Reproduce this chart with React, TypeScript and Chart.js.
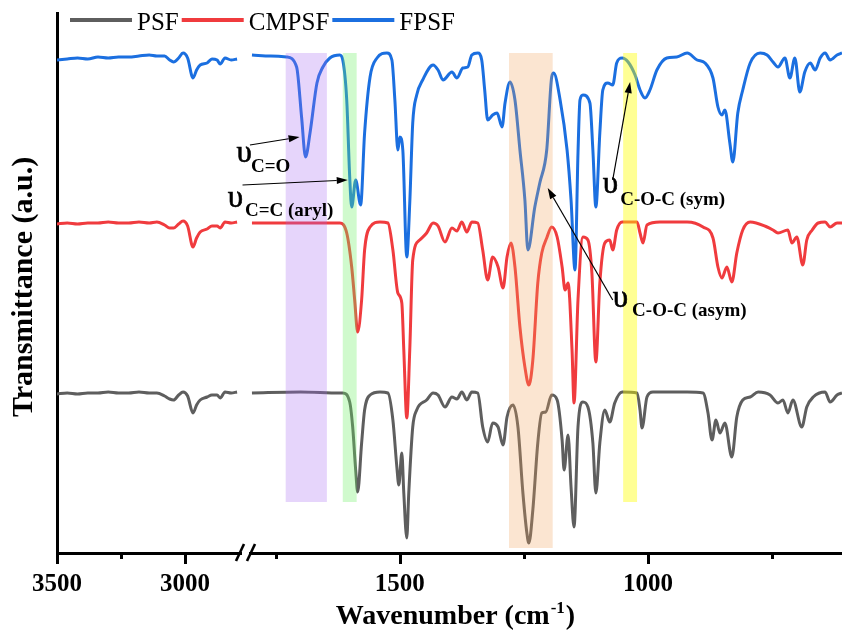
import React, { useEffect, useRef } from 'react';
import { Chart, registerables } from 'chart.js';

Chart.register(...registerables);

const FONT = '"Liberation Serif", "Times New Roman", Times, serif';

// ---------- data ----------
const seriesLabels = ['PSF', 'CMPSF', 'FPSF'];
const seriesColors = ['#5e5e5e', '#f03b3e', '#1b6fe0'];

// high-wavenumber segment (shared sampling)
const leftWn = [3500, 3460, 3420, 3380, 3340, 3300, 3260, 3220, 3180, 3140, 3110, 3080, 3060, 3045, 3025, 3008, 2990, 2969, 2955, 2941, 2914, 2895, 2875, 2863, 2844, 2820, 2797];
const psfLeftT = [159, 160, 159, 160, 160, 161, 160, 160, 161, 160, 160, 157, 154, 153, 158, 161, 157, 140, 148, 153, 156, 158, 158, 155, 161, 160, 161];
const cmpsfLeftT = [329, 330, 329, 330, 330, 331, 330, 330, 331, 330, 331, 328, 325, 325, 329, 332, 327, 306, 315, 321, 324, 327, 327, 325, 331, 330, 331];
const fpsfLeftT = [493, 494, 495, 494, 496, 495, 496, 496, 497, 498, 497, 497, 493, 491, 495, 500, 495, 475, 483, 488, 490, 494, 493, 489, 495, 493, 494];

// fingerprint segment
const psfRightWn = [1798, 1700, 1621, 1615, 1601, 1595, 1589, 1585, 1577, 1571, 1560, 1540, 1524, 1514, 1506, 1502, 1496, 1492, 1486, 1482, 1474, 1466, 1446, 1433, 1423, 1409, 1395, 1385, 1375, 1365, 1355, 1343, 1333, 1323, 1313, 1302, 1292, 1284, 1272, 1262, 1252, 1244, 1240, 1232, 1222, 1214, 1206, 1194, 1183, 1173, 1169, 1161, 1155, 1149, 1141, 1131, 1121, 1111, 1105, 1097, 1087, 1077, 1067, 1052, 1022, 1016, 1012, 1002, 990, 921, 889, 879, 871, 863, 855, 845, 831, 821, 809, 794, 778, 754, 738, 728, 718, 708, 690, 680, 667, 643, 633, 619, 609];
const psfRightT = [160, 161, 160, 160, 151, 126, 83, 61, 110, 143, 158, 161, 160, 133, 86, 68, 100, 60, 15, 60, 126, 143, 153, 160, 158, 146, 156, 154, 161, 153, 161, 160, 126, 111, 130, 126, 108, 136, 148, 126, 60, 20, 10, 43, 110, 140, 141, 158, 153, 113, 83, 118, 66, 26, 126, 151, 146, 110, 60, 110, 143, 131, 150, 161, 160, 143, 125, 156, 161, 161, 160, 140, 113, 133, 120, 130, 96, 136, 153, 156, 161, 158, 150, 153, 140, 153, 126, 146, 156, 161, 151, 158, 160];

const cmpsfRightWn = [1798, 1700, 1621, 1607, 1597, 1591, 1585, 1577, 1571, 1560, 1540, 1524, 1514, 1504, 1496, 1492, 1486, 1480, 1474, 1460, 1446, 1433, 1423, 1409, 1395, 1385, 1375, 1365, 1355, 1343, 1333, 1323, 1313, 1302, 1292, 1284, 1276, 1268, 1258, 1248, 1240, 1232, 1222, 1214, 1204, 1194, 1183, 1173, 1167, 1161, 1153, 1149, 1141, 1131, 1121, 1113, 1105, 1097, 1087, 1077, 1071, 1063, 1052, 1022, 1016, 1010, 1002, 976, 921, 889, 869, 859, 851, 841, 831, 821, 809, 794, 760, 748, 738, 718, 710, 700, 688, 680, 669, 657, 643, 633, 619, 609];
const cmpsfRightT = [330, 330, 330, 320, 286, 253, 221, 253, 303, 326, 331, 330, 303, 260, 250, 203, 135, 203, 293, 313, 320, 330, 327, 311, 325, 322, 331, 321, 331, 330, 303, 273, 296, 286, 265, 296, 310, 286, 226, 186, 168, 193, 270, 300, 315, 326, 316, 286, 263, 270, 203, 150, 253, 316, 313, 280, 191, 270, 310, 313, 303, 323, 331, 331, 320, 310, 328, 331, 331, 326, 315, 286, 275, 286, 271, 300, 323, 331, 326, 323, 320, 323, 310, 316, 288, 313, 323, 330, 331, 326, 330, 330];

const fpsfRightWn = [1798, 1760, 1728, 1708, 1698, 1690, 1681, 1667, 1655, 1641, 1621, 1615, 1607, 1601, 1597, 1589, 1579, 1571, 1560, 1546, 1526, 1516, 1510, 1504, 1500, 1494, 1486, 1480, 1474, 1466, 1454, 1433, 1423, 1413, 1395, 1385, 1373, 1363, 1355, 1343, 1335, 1329, 1323, 1313, 1304, 1294, 1288, 1278, 1268, 1258, 1248, 1242, 1228, 1218, 1204, 1194, 1190, 1177, 1163, 1155, 1147, 1141, 1137, 1131, 1117, 1111, 1105, 1097, 1091, 1081, 1071, 1063, 1052, 1040, 1026, 1016, 1006, 996, 982, 962, 942, 921, 901, 885, 869, 859, 851, 845, 835, 829, 819, 809, 794, 774, 760, 748, 738, 724, 714, 704, 694, 684, 673, 663, 653, 643, 633, 619, 609];
const fpsfRightT = [498, 497, 496, 486, 436, 396, 420, 470, 486, 495, 498, 493, 453, 376, 346, 373, 348, 420, 476, 495, 500, 493, 453, 403, 416, 403, 296, 350, 430, 458, 473, 488, 483, 473, 481, 475, 485, 486, 498, 500, 493, 463, 433, 438, 440, 426, 450, 471, 453, 403, 353, 303, 346, 370, 403, 476, 480, 453, 403, 353, 283, 400, 453, 458, 450, 403, 346, 420, 463, 470, 468, 490, 495, 491, 478, 463, 455, 463, 483, 495, 496, 500, 493, 490, 475, 446, 438, 443, 410, 391, 440, 463, 490, 500, 498, 491, 486, 495, 475, 495, 461, 481, 490, 483, 495, 500, 493, 498, 500];

// axis ticks
const leftTicks = [3500, 3250, 3000];
const rightTicks = [1750, 1500, 1250, 1000, 750];
const majorTicks = [3500, 3000, 1500, 1000];

// highlighted bands: wavenumber from / to, transmittance top / bottom
const bandFrom = [1730, 1615, 1280, 1050];
const bandTo = [1647, 1587, 1192, 1022];
const bandTop = [500, 500, 500, 500];
const bandBottom = [51, 51, 5, 51];
const bandColors = ['rgba(165,105,240,0.28)', 'rgba(110,240,100,0.32)', 'rgba(240,160,90,0.28)', 'rgba(255,255,0,0.42)'];

// peak assignments (anchors in data units on the fingerprint axis)
const annotSub = ['C=O', 'C=C (aryl)', 'C-O-C (sym)', 'C-O-C (asym)'];
const annotU = [[1829, 391], [1847, 346], [1091, 360], [1071, 246]];
const annotS = [[1800, 381], [1812, 337], [1056, 348], [1032, 237]];
const annotTail = [[1802, 408], [1817, 368], [1071, 373], [1071, 253]];
const annotHead = [[1702, 416], [1605, 373], [1036, 471], [1202, 365]];

// ---------- plugins ----------
const overlayPlugin = {
  id: 'overlay',
  afterDatasetsDraw(chart: any) {
    const { ctx, scales } = chart;
    const xR = scales.xR;
    const y = scales.y;
    ctx.save();
    bandFrom.forEach((w1, i) => {
      const x1 = xR.getPixelForValue(w1);
      const x2 = xR.getPixelForValue(bandTo[i]);
      const yt = y.getPixelForValue(bandTop[i]);
      const yb = y.getPixelForValue(bandBottom[i]);
      ctx.fillStyle = bandColors[i];
      ctx.fillRect(Math.min(x1, x2), yt, Math.abs(x2 - x1), yb - yt);
    });
    // arrows
    ctx.strokeStyle = '#000';
    ctx.fillStyle = '#000';
    ctx.lineWidth = 1.2;
    annotTail.forEach((t, i) => {
      const x1 = xR.getPixelForValue(t[0]);
      const y1 = y.getPixelForValue(t[1]);
      const x2 = xR.getPixelForValue(annotHead[i][0]);
      const y2 = y.getPixelForValue(annotHead[i][1]);
      const ang = Math.atan2(y2 - y1, x2 - x1);
      const hl = 11, hw = 3.6;
      const bx = x2 - hl * Math.cos(ang);
      const by = y2 - hl * Math.sin(ang);
      ctx.beginPath();
      ctx.moveTo(x1, y1);
      ctx.lineTo(bx, by);
      ctx.stroke();
      ctx.beginPath();
      ctx.moveTo(x2, y2);
      ctx.lineTo(bx + hw * Math.sin(ang), by - hw * Math.cos(ang));
      ctx.lineTo(bx - hw * Math.sin(ang), by + hw * Math.cos(ang));
      ctx.closePath();
      ctx.fill();
    });
    // labels
    ctx.textAlign = 'left';
    ctx.textBaseline = 'alphabetic';
    annotSub.forEach((sub, i) => {
      ctx.font = `31px ${FONT}`;
      ctx.lineWidth = 0.6;
      const ux = xR.getPixelForValue(annotU[i][0]);
      const uy = y.getPixelForValue(annotU[i][1]);
      ctx.fillText('\u03c5', ux, uy);
      ctx.strokeText('\u03c5', ux, uy);
      ctx.font = `bold 19px ${FONT}`;
      ctx.fillText(sub, xR.getPixelForValue(annotS[i][0]), y.getPixelForValue(annotS[i][1]));
    });
    ctx.restore();
  },
  afterDraw(chart: any) {
    const { ctx, scales, chartArea } = chart;
    const xL = scales.xL;
    const xR = scales.xR;
    const axisY = chartArea.bottom;
    ctx.save();
    // tick marks
    ctx.strokeStyle = '#000';
    ctx.lineWidth = 3;
    const drawTicks = (scale: any, values: number[]) => {
      values.forEach((v) => {
        const px = Math.round(scale.getPixelForValue(v)) + 0.5;
        const len = majorTicks.includes(v) ? 11 : 6;
        ctx.beginPath();
        ctx.moveTo(px, axisY);
        ctx.lineTo(px, axisY + len);
        ctx.stroke();
      });
    };
    drawTicks(xL, leftTicks);
    drawTicks(xR, rightTicks);
    // axis break
    const xb = xL.right;
    ctx.fillStyle = '#fff';
    ctx.fillRect(xb - 3, axisY - 3, 7, 6);
    ctx.lineWidth = 2.6;
    [-5, 6].forEach((dx) => {
      ctx.beginPath();
      ctx.moveTo(xb + dx - 4, axisY + 8);
      ctx.lineTo(xb + dx + 4, axisY - 9);
      ctx.stroke();
    });
    // axis titles
    ctx.fillStyle = '#000';
    ctx.textBaseline = 'alphabetic';
    ctx.textAlign = 'left';
    const main = 'Wavenumber (cm';
    const sup = '-1';
    const close = ')';
    ctx.font = `bold 28px ${FONT}`;
    const w1 = ctx.measureText(main).width;
    const w3 = ctx.measureText(close).width;
    ctx.font = `bold 17px ${FONT}`;
    const w2 = ctx.measureText(sup).width;
    const cx = (chartArea.left + chartArea.right) / 2 + 5;
    let tx = cx - (w1 + w2 + w3) / 2;
    const base = 624;
    ctx.font = `bold 28px ${FONT}`;
    ctx.fillText(main, tx, base);
    tx += w1 + 1;
    ctx.font = `bold 17px ${FONT}`;
    ctx.fillText(sup, tx, base - 11);
    tx += w2 + 1;
    ctx.font = `bold 28px ${FONT}`;
    ctx.fillText(close, tx, base);

    ctx.save();
    ctx.translate(24, (chartArea.top + chartArea.bottom) / 2 + 4);
    ctx.rotate(-Math.PI / 2);
    ctx.textAlign = 'center';
    ctx.textBaseline = 'middle';
    ctx.font = `bold 30px ${FONT}`;
    ctx.fillText('Transmittance (a.u.)', 0, 0);
    ctx.restore();

    // legend
    ctx.font = `25px ${FONT}`;
    ctx.textAlign = 'left';
    ctx.textBaseline = 'alphabetic';
    let lx = 70;
    seriesLabels.forEach((label, i) => {
      ctx.fillStyle = seriesColors[i];
      ctx.fillRect(lx, 18, 62, 4);
      ctx.fillStyle = '#000';
      ctx.fillText(label, lx + 67, 30);
      lx += 67 + ctx.measureText(label).width + 3;
    });
    ctx.restore();
  },
};

export default function App() {
  const ref = useRef<HTMLCanvasElement>(null);

  useEffect(() => {
    const canvas = ref.current;
    if (!canvas) return;
    const leftData = [psfLeftT, cmpsfLeftT, fpsfLeftT];
    const rightWn = [psfRightWn, cmpsfRightWn, fpsfRightWn];
    const rightT = [psfRightT, cmpsfRightT, fpsfRightT];
    const datasets: any[] = [];
    seriesLabels.forEach((label, i) => {
      const common = {
        label,
        borderColor: seriesColors[i],
        backgroundColor: seriesColors[i],
        borderWidth: 3,
        pointRadius: 0,
        pointHoverRadius: 0,
        fill: false,
        cubicInterpolationMode: 'monotone',
        order: seriesLabels.length - i,
        yAxisID: 'y',
      };
      datasets.push({ ...common, xAxisID: 'xL', data: leftWn.map((w, j) => ({ x: w, y: leftData[i][j] })) });
      datasets.push({ ...common, xAxisID: 'xR', data: rightWn[i].map((w, j) => ({ x: w, y: rightT[i][j] })) });
    });

    const tickFont = { family: FONT, size: 25, weight: 'bold' as const, lineHeight: 2.56 };
    const xCommon = (min: number, max: number, weight: number, ticks: number[]) => ({
      type: 'linear' as const,
      position: 'bottom' as const,
      stack: 'wn',
      stackWeight: weight,
      reverse: true,
      min,
      max,
      afterBuildTicks: (s: any) => {
        s.ticks = ticks.map((value) => ({ value }));
      },
      ticks: {
        autoSkip: false,
        maxRotation: 0,
        minRotation: 0,
        padding: 0,
        color: '#000',
        font: tickFont,
        callback: (v: any) => (majorTicks.includes(Number(v)) ? String(v) : ''),
      },
      grid: { display: true, drawOnChartArea: false, drawTicks: false },
      border: { display: true, color: '#000', width: 3 },
    });

    const chart = new Chart(canvas, {
      type: 'line',
      data: { datasets },
      options: {
        responsive: false,
        animation: false,
        devicePixelRatio: 1,
        events: [],
        layout: { padding: { left: 57, top: 13, right: 0, bottom: 20 } },
        plugins: { legend: { display: false }, tooltip: { enabled: false }, title: { display: false } },
        scales: {
          xL: xCommon(2766, 3500, 188, leftTicks),
          xR: xCommon(609, 1812, 597, rightTicks),
          y: {
            type: 'linear',
            position: 'left',
            min: 0,
            max: 540,
            ticks: { display: false },
            grid: { display: true, drawOnChartArea: false, drawTicks: false },
            border: { display: true, color: '#000', width: 3 },
          },
        },
      } as any,
      plugins: [overlayPlugin],
    });
    return () => chart.destroy();
  }, []);

  return (
    <div style={{ position: 'fixed', left: 0, top: 0, width: 842, height: 637, background: '#fff' }}>
      <canvas ref={ref} width={842} height={637} style={{ display: 'block' }} />
    </div>
  );
}
